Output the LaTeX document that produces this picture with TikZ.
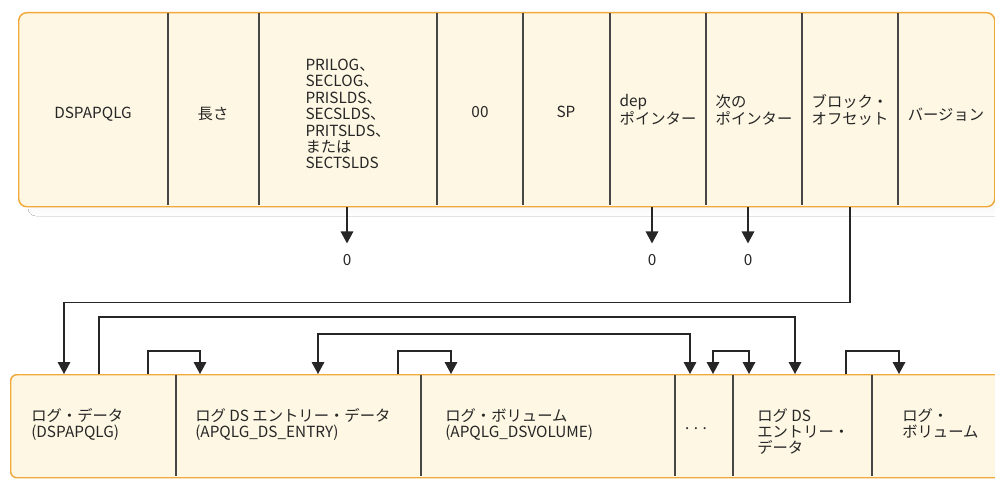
\documentclass[tikz,border=0pt]{standalone}
\usepackage{fontspec}
\setmainfont{Noto Sans CJK JP}
\usetikzlibrary{arrows.meta,positioning,calc}
\definecolor{cream}{HTML}{FDF7E3}
\definecolor{amber}{HTML}{F2A93B}
\definecolor{shade}{HTML}{DEDEE0}
\definecolor{ink}{HTML}{262626}

\begin{document}
\begin{tikzpicture}[
    x=0.75pt, y=-0.75pt,
    frame/.style={rectangle, draw=amber, fill=cream, line width=1.1pt, rounded corners=6pt, inner sep=0pt},
    divider/.style={draw=ink!85, line width=0.9pt},
    txt/.style={font=\fontsize{11.5}{12.3}\selectfont, text=ink, align=left, inner sep=0pt},
    zero/.style={font=\fontsize{11.5}{12.3}\selectfont, text=ink, inner sep=1pt},
    arrow/.style={-{Triangle[length=9pt, width=9.5pt]}, line width=0.9pt, draw=ink},
    twoway/.style={{Triangle[length=9pt, width=9.5pt]}-{Triangle[length=9pt, width=9.5pt]}, line width=0.9pt, draw=ink},
]
\useasboundingbox (0,0) rectangle (995,478);
\clip (0,0) rectangle (995,478);

% ====== Record header ======
\fill[shade, rounded corners=6pt] (28,22) rectangle (1006,216);
\node[frame, anchor=north west, minimum width=732pt, minimum height=145.5pt] (hdr) at (18,12) {};
\foreach \x in {168,259,437,523,610,706,802,898}
  \draw[divider] (\x,12.8) -- (\x,205.2);

\node[txt] (hName) at (93,114) {DSPAPQLG};
\node[txt] (hLen) at (213,114) {長さ};
\node[txt] (hType) at (348,114) {PRILOG、\\SECLOG、\\PRISLDS、\\SECSLDS、\\PRITSLDS、\\または\\SECTSLDS};
\node[txt] (hZero) at (480,112) {00};
\node[txt] (hSp) at (566,112) {SP};
\node[txt] (hDep) at (658,110) {dep\\ポインター};
\node[txt] (hNext) at (754,110) {次の\\ポインター};
\node[txt] (hOff) at (850,110) {ブロック・\\オフセット};
\node[txt] (hVer) at (946,115) {バージョン};

% ====== Null pointers ======
\node[zero] (z1) at (347,260) {0};
\node[zero] (z2) at (652,260) {0};
\node[zero] (z3) at (748,260) {0};
\draw[arrow, shorten >=7pt] (z1 |- hdr.south) -- (z1.north);
\draw[arrow, shorten >=7pt] (z2 |- hdr.south) -- (z2.north);
\draw[arrow, shorten >=7pt] (z3 |- hdr.south) -- (z3.north);

% ====== Log data segments ======
\node[frame, anchor=north west, minimum width=750pt, minimum height=77.25pt, rounded corners=4.5pt] (seg) at (10,374) {};
\foreach \x in {176,421,675,733,872}
  \draw[divider] (\x,374.7) -- (\x,476.3);

\node[txt, anchor=north west] (sData) at (31,408) {ログ・データ\\(DSPAPQLG)};
\node[txt, anchor=north west] (sEntry) at (195,408) {ログ DS エントリー・データ\\(APQLG\_DS\_ENTRY)};
\node[txt, anchor=north west] (sVol) at (445,408) {ログ・ボリューム\\(APQLG\_DSVOLUME)};
\node[txt] (sDots) at (696,429) {. . .};
\node[txt, anchor=north west] (sEntry2) at (757,408) {ログ DS\\エントリー・\\データ};
\node[txt, anchor=north west] (sVol2) at (902,408) {ログ・\\ボリューム};

% ports on the segment edge
\coordinate (p1) at (64,374);
\coordinate (p2) at (99,374);
\coordinate (p3) at (148,374);
\coordinate (p4) at (200,374);
\coordinate (p5) at (318,374);
\coordinate (p6) at (398,374);
\coordinate (p7) at (451,374);
\coordinate (p8) at (690,374);
\coordinate (p9) at (713,374);
\coordinate (p10) at (749,374);
\coordinate (p11) at (795,374);
\coordinate (p12) at (846,374);
\coordinate (p13) at (899,374);

% ====== Chains ======
\draw[arrow] (hOff |- hdr.south) -- ++(0,95) -| (p1);
\draw[arrow] (p2) -- ++(0,-57) -| (p11);
\draw[arrow] (p3) -- ++(0,-23) -| (p4);
\draw[twoway] (p5) -- ++(0,-40) -| (p8);
\draw[arrow] (p6) -- ++(0,-23) -| (p7);
\draw[twoway] (p9) -- ++(0,-23) -| (p10);
\draw[arrow] (p12) -- ++(0,-23) -| (p13);

\end{tikzpicture}
\end{document}
